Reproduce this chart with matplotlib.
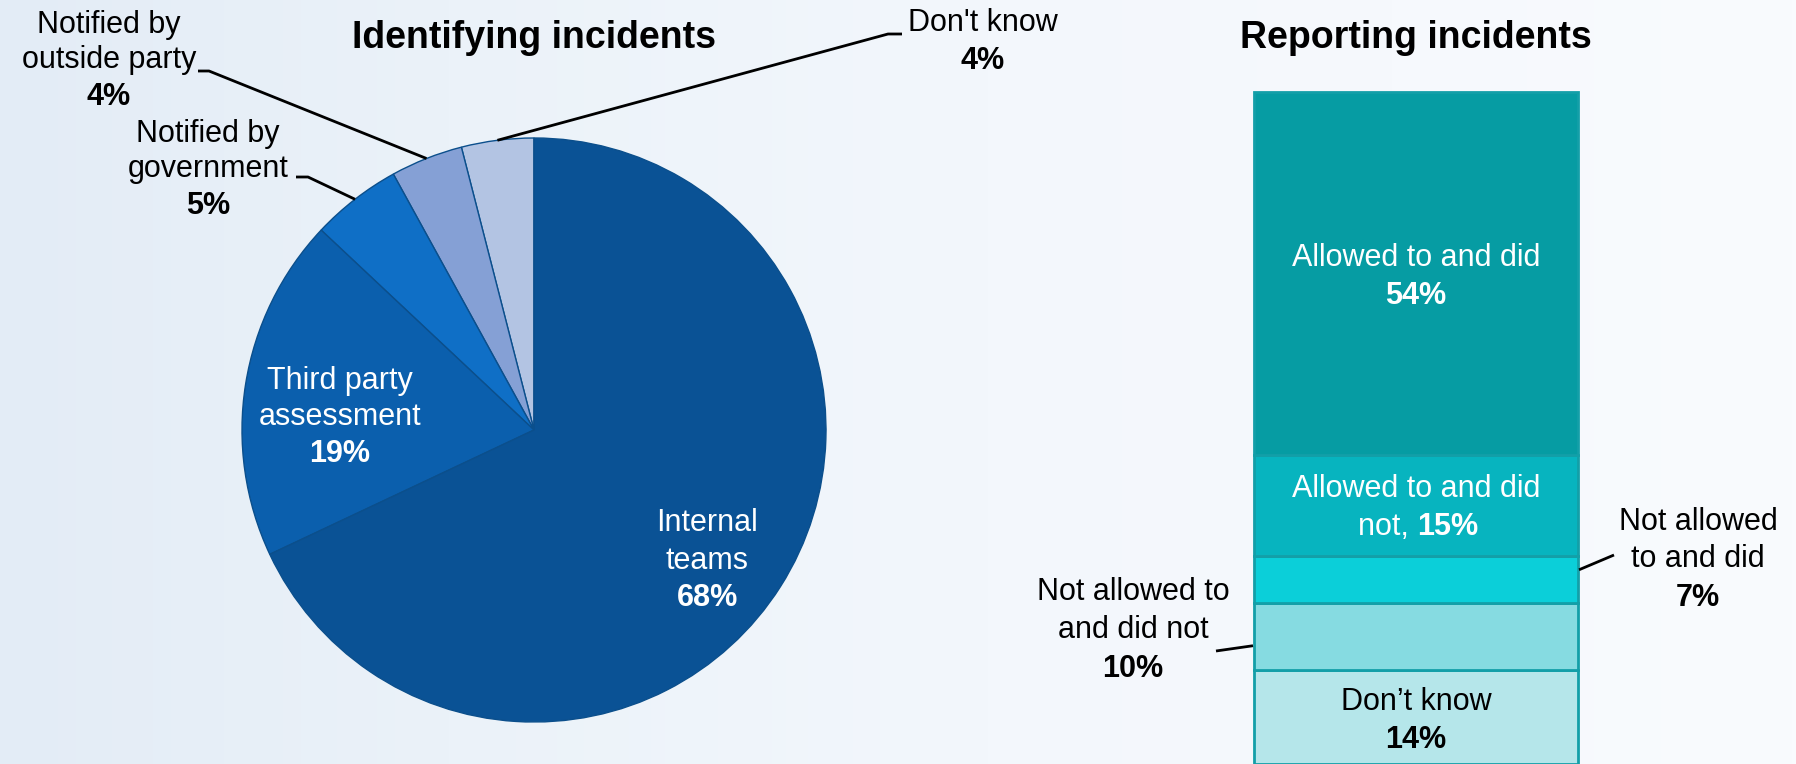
"""Identifying vs reporting incidents: pie + single stacked bar."""
import numpy as np
import matplotlib
matplotlib.use("Agg")
import matplotlib.pyplot as plt
from matplotlib.lines import Line2D
from matplotlib.colors import to_rgb

plt.rcParams["font.family"] = ["Liberation Sans", "DejaVu Sans"]

# --- data -------------------------------------------------------------
# pie, counter-clockwise from 12 o'clock
pie_names = ["Don't know", "Notified by\noutside party", "Notified by\ngovernment",
             "Third party\nassessment", "Internal\nteams"]
pie_values = [4, 4, 5, 19, 68]
pie_colors = ["#b3c4e3", "#85a0d5", "#0f6fc6", "#0b5fad", "#0a5295"]

# stacked bar, bottom to top
bar_names = ["Don\u2019t know", "Not allowed to\nand did not", "Not allowed\nto and did",
             "Allowed to and did\nnot,", "Allowed to and did"]
bar_values = [14, 10, 7, 15, 54]
bar_colors = ["#b5e6ea", "#86dbe1", "#0bcfd9", "#07b4bf", "#069ca3"]

W, H = 1796, 764
fig = plt.figure(figsize=(W / 100, H / 100), dpi=100)


def fx(x):
    return x / W


def fy(y):
    return 1 - y / H


# background gradient
bg = fig.add_axes([0, 0, 1, 1], zorder=-10)
stops_x = [0.0, 0.25, 0.55, 1.0]
stops_c = [to_rgb(c) for c in ["#e3ecf6", "#ebf2f9", "#f3f7fc", "#f9fbfe"]]
xs = np.linspace(0, 1, 400)
grad = np.stack([np.interp(xs, stops_x, [c[k] for c in stops_c]) for k in range(3)], axis=-1)
bg.imshow(grad[None, :, :], aspect="auto", extent=[0, 1, 0, 1])
bg.axis("off")

FS = 22
LH = 37  # line height in px


def label(x, y_lines, text, color="black"):
    """Draw label lines; the last line (percent) is bold."""
    lines = text.split("\n")
    for i, (ln, yy) in enumerate(zip(lines, y_lines)):
        bold = i == len(lines) - 1 and ln.endswith("%")
        fig.text(fx(x), fy(yy), ln, ha="center", va="center", fontsize=FS,
                 color=color, fontweight="bold" if bold else "normal")


def leader(points):
    fig.add_artist(Line2D([fx(p[0]) for p in points], [fy(p[1]) for p in points],
                          color="black", lw=2, solid_capstyle="butt"))


# --- pie --------------------------------------------------------------
cx, cy, r = 534, 430, 292
ax = fig.add_axes([fx(cx - r), fy(cy + r), 2 * r / W, 2 * r / H])
ax.patch.set_alpha(0)
wedges, _ = ax.pie(pie_values, colors=pie_colors, startangle=90, counterclock=True,
                   wedgeprops=dict(edgecolor="#0b4f8c", linewidth=1))
ax.set_xlim(-1, 1)
ax.set_ylim(-1, 1)
ax.set_aspect("equal")
ax.axis("off")


def edge_pt(w):
    t = np.deg2rad((w.theta1 + w.theta2) / 2)
    return (cx + r * np.cos(t), cy - r * np.sin(t))


fig.text(fx(cx), fy(38), "Identifying incidents", ha="center", va="center",
         fontsize=27, fontweight="bold")

pct = [f"{v}%" for v in pie_values]
label(983, [23, 61], pie_names[0] + "\n" + pct[0])
leader([(902, 34), (888, 34), edge_pt(wedges[0])])
label(109, [25, 60, 97], pie_names[1] + "\n" + pct[1])
leader([(198, 71), (209, 71), edge_pt(wedges[1])])
label(208, [134, 169, 206], pie_names[2] + "\n" + pct[2])
leader([(296, 177), (308, 177), edge_pt(wedges[2])])
label(340, [381, 417, 454], pie_names[3] + "\n" + pct[3], color="white")
label(707, [523, 561, 598], pie_names[4] + "\n" + pct[4], color="white")

# --- stacked bar ------------------------------------------------------
bx_l, bx_w, top = 1254, 324, 92
bx = fig.add_axes([fx(bx_l), 0, bx_w / W, (H - top) / H])
bx.patch.set_alpha(0)
bottoms = np.concatenate([[0], np.cumsum(bar_values)[:-1]])
for v, b, c in zip(bar_values, bottoms, bar_colors):
    bx.bar(0, v, bottom=b, width=1, color=c, edgecolor="#139fa8", linewidth=2,
           clip_on=False)
bx.set_xlim(-0.5, 0.5)
bx.set_ylim(0, 100)
bx.axis("off")

scale = (H - top) / 100


def bar_y(i, frac=0.5):
    return H - (bottoms[i] + frac * bar_values[i]) * scale


bxc = bx_l + bx_w / 2
fig.text(fx(bxc), fy(38), "Reporting incidents", ha="center", va="center",
         fontsize=27, fontweight="bold")

bpct = [f"{v}%" for v in bar_values]
label(bxc, [258, 296], bar_names[4] + "\n" + bpct[4], color="white")
# "Allowed to and did / not, 15%"
fig.text(fx(bxc), fy(489), "Allowed to and did", ha="center", va="center",
         fontsize=FS, color="white")
fig.text(fx(bxc + 1), fy(527), "not, ", ha="right", va="center", fontsize=FS, color="white")
fig.text(fx(bxc + 1), fy(527), bpct[3], ha="left", va="center", fontsize=FS,
         color="white", fontweight="bold")
label(1698, [522, 559, 598], bar_names[2] + "\n" + bpct[2])
leader([(bx_l + bx_w + 1, bar_y(2, 0.7)), (1614, 555)])
label(1133, [592, 630, 669], bar_names[1] + "\n" + bpct[1])
leader([(1216, 651), (bx_l - 1, bar_y(1, 0.36))])
label(bxc, [702, 740], bar_names[0] + "\n" + bpct[0])

fig.savefig("out.png", dpi=100)
